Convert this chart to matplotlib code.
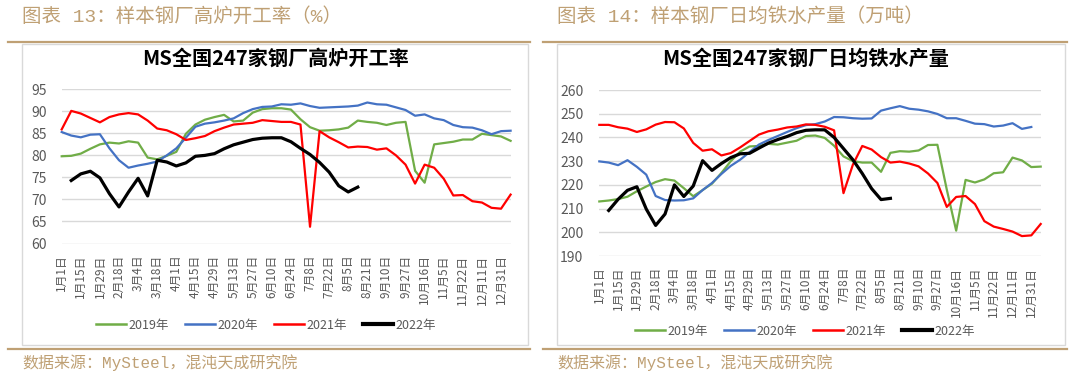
import matplotlib
matplotlib.use('Agg')
import matplotlib.pyplot as plt
import numpy as np
from matplotlib.lines import Line2D
from matplotlib.patches import Rectangle

plt.rcParams['font.family'] = ['Noto Sans CJK SC', 'DejaVu Sans']

# x categories (one label every second week)
date_labels = ['1月1日', '1月15日', '1月29日', '2月18日', '3月4日', '3月18日', '4月1日', '4月15日',
               '4月29日', '5月13日', '5月27日', '6月10日', '6月24日', '7月8日', '7月22日', '8月5日',
               '8月21日', '9月10日', '9月27日', '10月16日', '11月5日', '11月22日', '12月11日', '12月31日']
years = ['2019年', '2020年', '2021年', '2022年']
colors = ['#70AD47', '#4472C4', '#FF0000', '#000000']

# 高炉开工率 (%)
rate_2019 = [79.8, 79.9, 80.4, 81.5, 82.5, 82.9, 82.7, 83.2, 82.9, 79.5, 79.1, 79.9, 80.8, 84.9,
             87.0, 88.1, 88.7, 89.2, 87.7, 87.9, 89.7, 90.5, 90.7, 90.7, 90.4, 88.2, 86.4, 85.6,
             85.7, 85.9, 86.3, 87.9, 87.6, 87.4, 86.9, 87.4, 87.6, 76.5, 73.8, 82.5, 82.8, 83.1,
             83.6, 83.6, 84.9, 84.6, 84.3, 83.3]
rate_2020 = [85.3, 84.5, 84.1, 84.7, 84.8, 81.6, 78.9, 77.2, 77.7, 78.1, 78.6, 80.0, 81.6, 84.0,
             86.5, 87.2, 87.5, 87.9, 88.4, 89.6, 90.5, 91.0, 91.1, 91.6, 91.5, 91.8, 91.2, 90.8,
             90.9, 91.0, 91.1, 91.3, 92.0, 91.6, 91.5, 90.9, 90.3, 89.0, 89.3, 88.4, 88.0, 86.9,
             86.4, 86.3, 85.7, 84.8, 85.5, 85.6]
rate_2021 = [85.9, 90.1, 89.5, 88.5, 87.5, 88.7, 89.3, 89.6, 89.3, 87.9, 86.1, 85.7, 84.8, 83.5,
             83.9, 84.4, 85.5, 86.3, 87.0, 87.2, 87.4, 88.0, 87.8, 87.6, 87.6, 87.0, 63.8, 85.5,
             84.1, 83.0, 81.8, 82.0, 81.9, 81.3, 81.6, 80.0, 77.9, 73.6, 77.9, 77.2, 74.7, 70.9,
             71.0, 69.6, 69.3, 68.1, 67.9, 71.1]
rate_2022 = [None, 74.3, 75.8, 76.4, 74.9, 71.3, 68.3, 71.7, 74.8, 70.8, 78.9, 78.5, 77.6, 78.3,
             79.8, 80.0, 80.4, 81.5, 82.4, 83.0, 83.6, 83.9, 84.0, 84.0, 83.1, 81.6, 80.2, 78.4,
             76.2, 73.1, 71.7, 72.8]

# 日均铁水产量 (万吨)
iron_2019 = [213.0, 213.4, 214.0, 215.0, 217.3, 219.3, 221.2, 222.4, 221.8, 218.6, 215.2, 217.8,
             220.5, 225.0, 230.0, 234.0, 236.2, 236.4, 237.3, 237.0, 237.8, 238.6, 240.6, 240.8,
             239.8, 236.5, 232.0, 230.0, 229.4, 229.4, 225.5, 233.5, 234.2, 234.0, 234.5, 236.8,
             236.9, 218.0, 200.7, 222.1, 221.0, 222.3, 224.9, 225.3, 231.5, 230.3, 227.5, 227.7]
iron_2020 = [229.9, 229.4, 228.3, 230.4, 227.6, 224.3, 215.3, 213.6, 213.4, 213.5, 214.3, 217.8,
             220.8, 224.6, 228.0, 230.6, 233.8, 237.0, 238.9, 240.6, 242.3, 243.9, 245.2, 245.6,
             246.7, 248.6, 248.5, 248.1, 247.9, 248.0, 251.3, 252.3, 253.2, 252.1, 251.7, 251.0,
             249.9, 248.1, 248.1, 247.0, 245.8, 245.6, 244.6, 245.0, 246.0, 243.6, 244.4]
iron_2021 = [245.3, 245.3, 244.3, 243.7, 242.3, 243.4, 245.4, 246.5, 246.4, 243.8, 237.7, 234.4,
             235.0, 232.4, 233.4, 235.8, 238.5, 241.2, 242.6, 243.3, 244.2, 244.6, 245.5, 245.3,
             244.5, 243.0, 216.5, 228.5, 236.4, 234.9, 231.7, 229.4, 229.8, 229.0, 227.8, 224.8,
             220.8, 210.7, 214.9, 215.3, 211.9, 204.7, 202.4, 201.4, 200.3, 198.4, 198.7, 203.5]
iron_2022 = [None, 209.2, 213.9, 217.7, 219.2, 209.8, 202.9, 207.7, 220.0, 215.1, 219.5, 230.2,
             226.1, 229.0, 231.5, 233.1, 233.3, 235.5, 237.6, 239.1, 240.4, 242.0, 243.0, 243.2,
             243.2, 240.0, 235.3, 230.6, 224.8, 218.4, 213.8, 214.3]

W, H = 1080, 380
gold = '#BFA074'
gray_txt = '#595959'
fig = plt.figure(figsize=(W / 100, H / 100), dpi=100)


def px_axes(x0, x1, ytop, ybot):
    return fig.add_axes([x0 / W, 1 - ybot / H, (x1 - x0) / W, (ybot - ytop) / H])


def draw_panel(ax, series, ylim, ystep, ypad, xpad):
    for vals, c in zip(series, colors):
        y = np.array(vals, dtype=float)
        lw = 2.3 if c == '#000000' else 1.6
        ax.plot(np.arange(len(y)), y, color=c, lw=lw, clip_on=False, solid_joinstyle='round')
    ax.set_xlim(0, 47)
    ax.set_ylim(*ylim)
    ax.set_yticks(np.arange(ylim[0], ylim[1] + 1, ystep))
    ax.set_xticks(np.arange(0, 2 * len(date_labels), 2))
    ax.set_xticklabels(date_labels, rotation=90, fontsize=8.5, color=gray_txt)
    ax.tick_params(axis='y', length=0, pad=ypad, labelsize=10, labelcolor=gray_txt)
    ax.tick_params(axis='x', length=0, pad=xpad)
    for s in ax.spines.values():
        s.set_visible(False)
    ax.grid(axis='y', color='#D9D9D9', lw=1)
    ax.set_axisbelow(True)
    ax.patch.set_alpha(0)


def frame(x0, x1, head, foot):
    fig.add_artist(Rectangle((x0 / W, 1 - 345 / H), (x1 - x0) / W, 301 / H,
                             transform=fig.transFigure, fill=False, ec='#D9D9D9', lw=1))
    fig.add_artist(Line2D([(x0 - 14) / W, (x1 + 2) / W], [1 - 42 / H] * 2, color=gold, lw=1.6))
    fig.add_artist(Line2D([(x0 - 14) / W, (x1 + 2) / W], [1 - 349 / H] * 2, color=gold, lw=1.6))
    fig.text(x0 / W, 1 - 17 / H, head, fontsize=14, color=gold, va='center', ha='left',
             family=['Liberation Mono', 'Noto Sans CJK SC'])
    fig.text(x0 / W, 1 - 363 / H, foot, fontsize=11.5, color=gold, va='center', ha='left',
             family=['Liberation Mono', 'Noto Sans CJK SC'])


def legend(cx, cy):
    handles = [Line2D([], [], color=c, lw=(3 if c == '#000000' else 1.8)) for c in colors]
    fig.legend(handles, years, loc='center', bbox_to_anchor=(cx / W, 1 - cy / H), ncol=4,
               frameon=False, fontsize=9, handlelength=2.4, handletextpad=0.2,
               columnspacing=1.3, labelcolor=gray_txt)


frame(22, 528, '图表 13：样本钢厂高炉开工率（%）', '数据来源：MySteel，混沌天成研究院')
frame(557, 1065, '图表 14：样本钢厂日均铁水产量（万吨）', '数据来源：MySteel，混沌天成研究院')

ax1 = px_axes(61.7, 510.6, 89.3, 243.5)
draw_panel(ax1, [rate_2019, rate_2020, rate_2021, rate_2022], (60, 95), 5, 10.5, 8)
fig.text(275 / W, 1 - 58 / H, 'MS全国247家钢厂高炉开工率', fontsize=14.5, fontweight='bold',
         ha='center', va='center', color='#000000')
legend(266, 325)

ax2 = px_axes(599.3, 1040.7, 90, 256)
draw_panel(ax2, [iron_2019, iron_2020, iron_2021, iron_2022], (190, 260), 10, 11.5, 7.7)
fig.text(806 / W, 1 - 58 / H, 'MS全国247家钢厂日均铁水产量', fontsize=14.5, fontweight='bold',
         ha='center', va='center', color='#000000')
legend(805, 331)

fig.savefig('out.png', dpi=100)
